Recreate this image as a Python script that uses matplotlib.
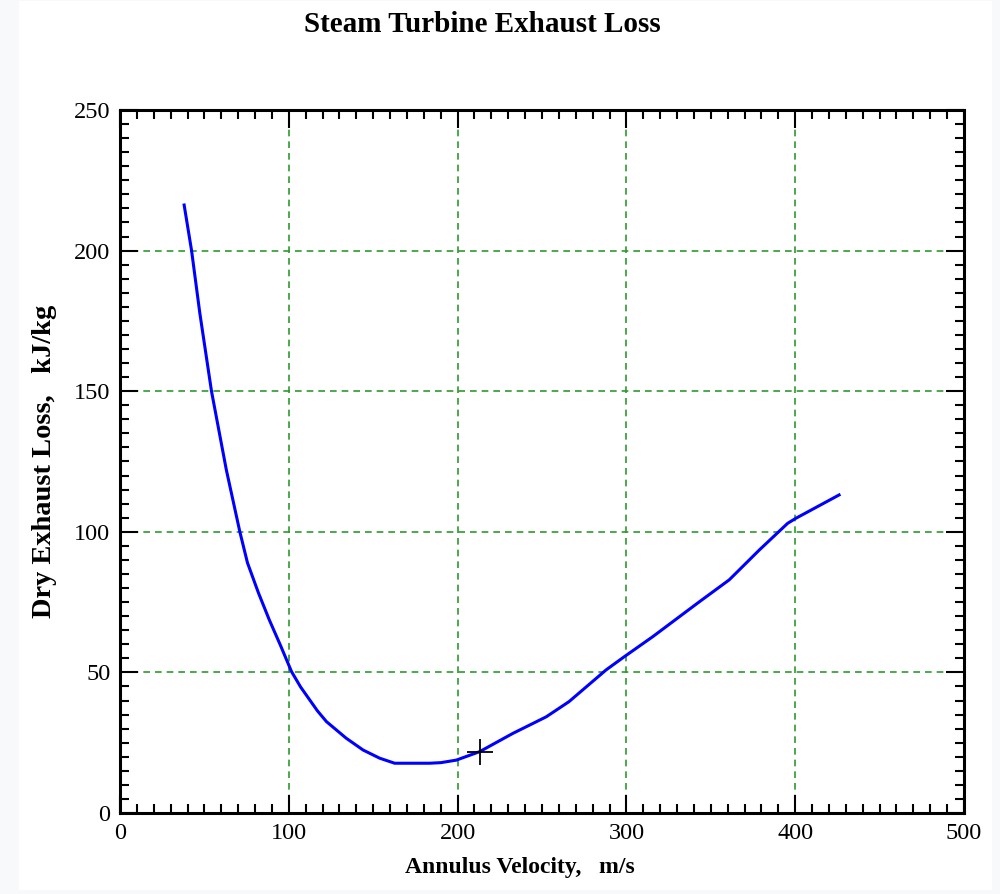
import matplotlib
matplotlib.use("Agg")
import matplotlib.pyplot as plt
from matplotlib.patches import Rectangle
from matplotlib.ticker import MultipleLocator

plt.rcParams["font.family"] = ["Liberation Serif", "DejaVu Serif"]

# 曲线数据
velocity = [38, 42.4, 47.3, 54.2, 63, 71, 75.5, 82, 88.5, 95, 101.6, 107,
            112.4, 117, 122.3, 134, 144, 153.8, 162.7, 183.4, 190, 199.2, 213,
            232.7, 252.5, 266, 288, 298.8, 315.6, 331.4, 343.2, 360.9, 378.7,
            395.5, 400.4, 426]
loss = [216.2, 200, 177.7, 150, 122, 100, 89, 78.3, 68.6, 59.7, 50.3, 44.8,
        40.2, 36.3, 32.5, 26.6, 22.4, 19.5, 17.7, 17.7, 17.9, 18.8, 21.8,
        28.3, 34.2, 39.6, 50.9, 55.6, 62.7, 69.8, 75.1, 82.9, 93.5,
        103, 104.8, 113.1]

# 工作点
op_velocity = [213.5]
op_loss = [21.8]

fig = plt.figure(figsize=(10, 8.94), dpi=100, facecolor="#f8f9fb")
fig.patches.append(Rectangle((0.019, 0.005), 0.973, 0.994, transform=fig.transFigure,
                             facecolor="white", edgecolor="none", zorder=-1))

ax = fig.add_axes([0.12, 0.0906, 0.844, 0.7864])
ax.set_facecolor("white")

ax.plot(velocity, loss, color="#0000ff", lw=2.2, zorder=3)
ax.plot(op_velocity, op_loss, marker="+", color="black", ms=19, mew=1.3,
        linestyle="none", zorder=4)

ax.set_xlim(0, 500)
ax.set_ylim(0, 250)
ax.xaxis.set_major_locator(MultipleLocator(100))
ax.xaxis.set_minor_locator(MultipleLocator(10))
ax.yaxis.set_major_locator(MultipleLocator(50))
ax.yaxis.set_minor_locator(MultipleLocator(5))

ax.grid(True, which="major", color="#2e9b2e", linestyle=(0, (4, 3)), lw=1.2, zorder=1)

ax.tick_params(which="both", direction="in", top=True, right=True, width=1.5,
               labelsize=17.5, colors="black")
ax.tick_params(which="major", length=13, pad=7)
ax.tick_params(which="minor", length=6.5)
for sp in ax.spines.values():
    sp.set_linewidth(2.2)

fig.text(0.52, 1 - 868 / 894, "Annulus Velocity,   m/s", ha="center", va="center",
         fontsize=17, fontweight="bold")
fig.text(0.045, 1 - 461 / 894, "Dry Exhaust Loss,   kJ/kg", ha="center", va="center",
         rotation=90, fontsize=20.5, fontweight="bold")
fig.text(0.482, 1 - 24 / 894, "Steam Turbine Exhaust Loss", ha="center", va="center",
         fontsize=21, fontweight="bold")

plt.savefig("out.png", dpi=100, facecolor=fig.get_facecolor())
